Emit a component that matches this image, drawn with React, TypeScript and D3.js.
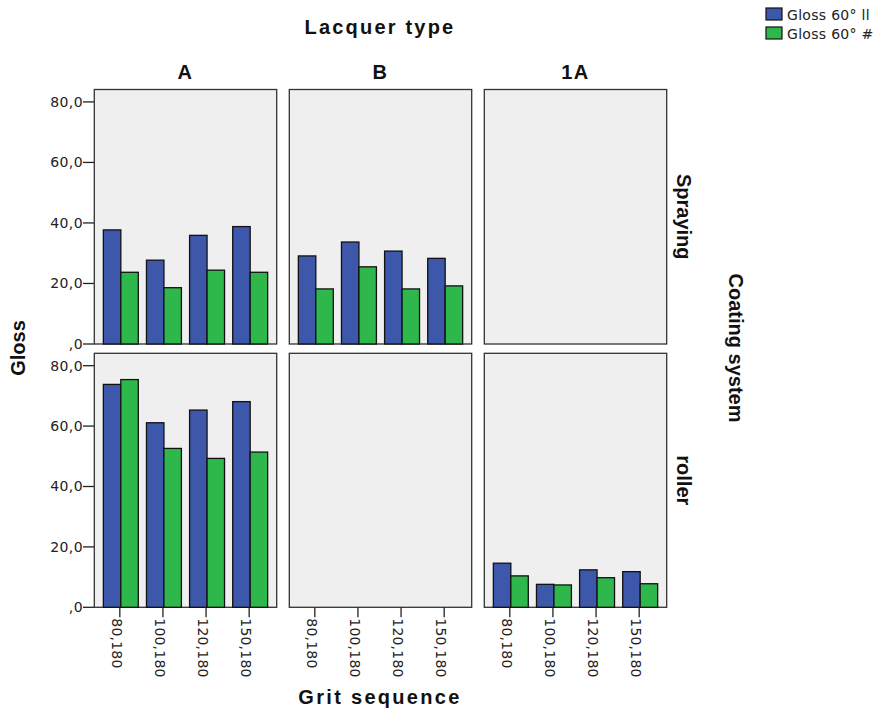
import React from "react";
import * as d3 from "d3";

const width = 882;
const height = 713;

// ---- data ----
const grits = ["80,180", "100,180", "120,180", "150,180"];
const lacquers = ["A", "B", "1A"];
const coatings = ["Spraying", "roller"];
const seriesNames = ["Gloss 60° ll", "Gloss 60° #"];
const yTicks = [0, 20, 40, 60, 80];

// gloss values per panel [coating][lacquer]; null = empty cell
const sprayA_par = [37.7, 27.7, 35.9, 38.8];
const sprayA_perp = [23.7, 18.6, 24.4, 23.7];
const sprayB_par = [29.1, 33.7, 30.7, 28.3];
const sprayB_perp = [18.2, 25.5, 18.2, 19.2];
const rollerA_par = [73.8, 61.1, 65.3, 68.1];
const rollerA_perp = [75.4, 52.6, 49.3, 51.4];
const roller1A_par = [14.6, 7.6, 12.4, 11.8];
const roller1A_perp = [10.4, 7.4, 9.8, 7.8];

const cells: (number[][] | null)[][] = [
  [[sprayA_par, sprayA_perp], [sprayB_par, sprayB_perp], null],
  [[rollerA_par, rollerA_perp], null, [roller1A_par, roller1A_perp]],
];

const colors = ["#3d57ab", "#2eb84b"];

// ---- layout ----
const panelX = [94.3, 289.3, 484.3];
const panelW = 182.4;
const rowTop = [89.5, 353.3];
const rowBottom = [344, 607.3];

const fmt = (v: number) => (v === 0 ? ",0" : d3.format(".1f")(v).replace(".", ","));

const tickFont = { fontFamily: "DejaVu Sans, sans-serif", fontSize: 14, letterSpacing: 0.4, fill: "#222" };
const titleFont = { fontFamily: "Liberation Sans, Arial, sans-serif", fontSize: 20, fontWeight: 700, fill: "#111" };

export default function App() {
  return (
    <svg width={width} height={height} style={{ position: "absolute", left: 0, top: 0, background: "#fff" }}>
      {/* titles */}
      <text x={380} y={34} textAnchor="middle" {...titleFont} letterSpacing={2.2}>Lacquer type</text>
      <text x={380} y={704} textAnchor="middle" {...titleFont} letterSpacing={2.3}>Grit sequence</text>
      <text transform="translate(25,348) rotate(-90)" textAnchor="middle" {...titleFont}>Gloss</text>
      <text transform="translate(729,348) rotate(90)" textAnchor="middle" {...titleFont}>Coating system</text>

      {lacquers.map((l, ci) => (
        <text key={l} x={panelX[ci] + panelW / 2} y={79} textAnchor="middle" {...titleFont} letterSpacing={1.5}>{l}</text>
      ))}

      {coatings.map((c, ri) => (
        <text key={c} transform={`translate(677,${(rowTop[ri] + rowBottom[ri]) / 2}) rotate(90)`} textAnchor="middle" {...titleFont}>{c}</text>
      ))}

      {/* legend */}
      {seriesNames.map((s, i) => (
        <g key={s} transform={`translate(766,${8 + i * 19})`}>
          <rect x={0} y={0} width={16} height={12} fill={colors[i]} stroke="#111" strokeWidth={1.2} />
          <text x={21} y={12} fontFamily="DejaVu Sans, sans-serif" fontSize={14} letterSpacing={0.3} fill="#222">{s}</text>
        </g>
      ))}

      {coatings.map((c, ri) => {
        const y = d3.scaleLinear().domain([0, 84.1]).range([rowBottom[ri], rowTop[ri]]);
        return (
          <g key={c}>
            {/* y axis */}
            {yTicks.map((t) => (
              <g key={t}>
                <line x1={83} x2={panelX[0]} y1={y(t)} y2={y(t)} stroke="#222" strokeWidth={1.3} />
                <text x={83} y={y(t) + 5} textAnchor="end" {...tickFont}>{fmt(t)}</text>
              </g>
            ))}
            {lacquers.map((l, ci) => {
              const x0 = d3.scaleBand().domain(grits).range([panelX[ci], panelX[ci] + panelW]).paddingInner(0.19).paddingOuter(0.21);
              const x1 = d3.scaleBand().domain(["0", "1"]).range([0, x0.bandwidth()]);
              const cell = cells[ri][ci];
              return (
                <g key={l}>
                  <rect x={panelX[ci]} y={rowTop[ri]} width={panelW} height={rowBottom[ri] - rowTop[ri]} fill="#efefef" stroke="#333" strokeWidth={1.3} />
                  {cell &&
                    grits.map((g, gi) =>
                      cell.map((vals, si) => (
                        <rect
                          key={g + si}
                          x={(x0(g) as number) + (x1(String(si)) as number)}
                          y={y(vals[gi])}
                          width={x1.bandwidth()}
                          height={y(0) - y(vals[gi])}
                          fill={colors[si]}
                          stroke="#111"
                          strokeWidth={1.3}
                        />
                      ))
                    )}
                  {ri === coatings.length - 1 &&
                    grits.map((g) => {
                      const cx = (x0(g) as number) + x0.bandwidth() / 2 - 1;
                      return (
                        <g key={g}>
                          <line x1={cx} x2={cx} y1={rowBottom[ri]} y2={rowBottom[ri] + 10} stroke="#222" strokeWidth={1.3} />
                          <text transform={`translate(${cx - 8},${rowBottom[ri] + 11}) rotate(90)`} {...tickFont} letterSpacing={0.2}>{g}</text>
                        </g>
                      );
                    })}
                </g>
              );
            })}
          </g>
        );
      })}
    </svg>
  );
}
